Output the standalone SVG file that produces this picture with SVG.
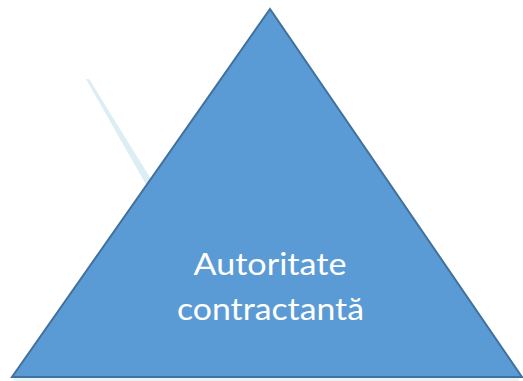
<svg xmlns="http://www.w3.org/2000/svg" width="523" height="381" viewBox="0 0 523 381">
  <style>
    .tri { fill: #5B9BD5; stroke: #41719C; stroke-width: 2; stroke-linejoin: miter; }
    .lbl { font-family: Lato, "Open Sans", "Liberation Sans", sans-serif; font-size: 31px; fill: #FFFFFF; text-anchor: middle; }
    .faint { fill: #DCEDF3; }
  </style>
  <rect width="523" height="381" fill="#FFFFFF"/>
  <g id="connectors">
    <polygon class="faint" points="86,79 89,79 154,184 148,188"/>
    <rect class="faint" x="14" y="378" width="505" height="3" opacity="0.6"/>
  </g>
  <g id="node-autoritate">
    <polygon class="tri" points="270,9 12,377 522,377"/>
    <text class="lbl" x="270" y="275" textLength="153" lengthAdjust="spacingAndGlyphs">Autoritate</text>
    <text class="lbl" x="270.5" y="320" textLength="187" lengthAdjust="spacingAndGlyphs">contractantă</text>
  </g>
</svg>
